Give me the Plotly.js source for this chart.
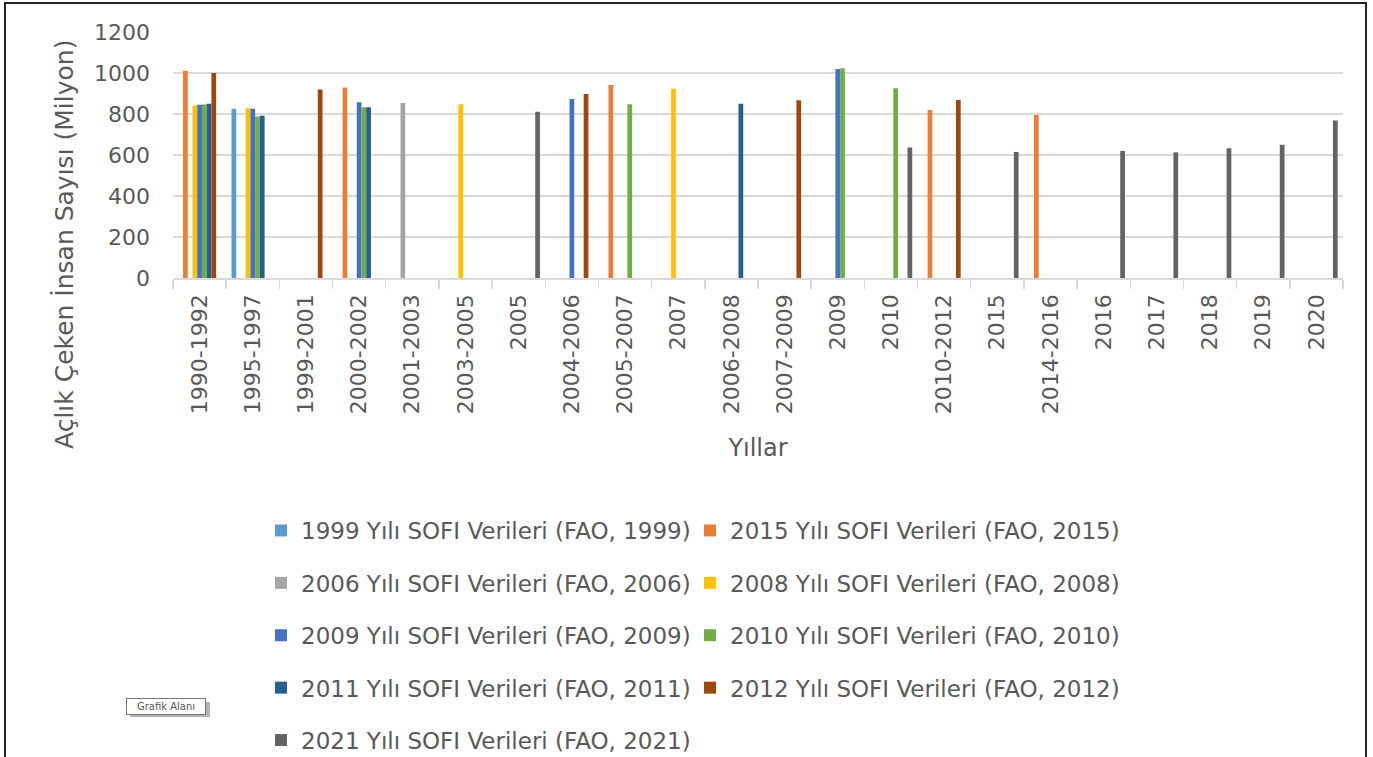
<!DOCTYPE html>
<html>
<head>
<meta charset="utf-8">
<script src="https://cdn.plot.ly/plotly-3.0.1.min.js"></script>
<style>html,body{margin:0;padding:0;background:#fff;}#chart{width:1373px;height:757px;}</style>
</head>
<body>
<div id="chart"></div>
<script>
// ---- data ----
const categories = ["1990-1992","1995-1997","1999-2001","2000-2002","2001-2003","2003-2005","2005","2004-2006","2005-2007","2007","2006-2008","2007-2009","2009","2010","2010-2012","2015","2014-2016","2016","2017","2018","2019","2020"];
const _ = null;
const sofi1999 = [_,825,_,_,_,_,_,_,_,_,_,_,_,_,_,_,_,_,_,_,_,_];
const sofi2015 = [1011,_,_,929,_,_,_,_,942,_,_,_,_,_,820,_,795,_,_,_,_,_];
const sofi2006 = [_,_,_,_,854,_,_,_,_,_,_,_,_,_,_,_,_,_,_,_,_,_];
const sofi2008 = [842,828,_,_,_,848,_,_,_,923,_,_,_,_,_,_,_,_,_,_,_,_];
const sofi2009 = [845,825,_,857,_,_,_,873,_,_,_,_,1020,_,_,_,_,_,_,_,_,_];
const sofi2010 = [846,788,_,833,_,_,_,_,848,_,_,_,1023,925,_,_,_,_,_,_,_,_];
const sofi2011 = [850,792,_,833,_,_,_,_,_,_,850,_,_,_,_,_,_,_,_,_,_,_];
const sofi2012 = [1000,_,919,_,_,_,_,898,_,_,_,867,_,_,868,_,_,_,_,_,_,_];
const sofi2021 = [_,_,_,_,_,_,811,_,_,_,_,_,_,637,_,615,_,620,613,633,650,768];
const seriesNames = [
  "1999 Yılı SOFI Verileri (FAO, 1999)",
  "2015 Yılı SOFI Verileri (FAO, 2015)",
  "2006 Yılı SOFI Verileri (FAO, 2006)",
  "2008 Yılı SOFI Verileri (FAO, 2008)",
  "2009 Yılı SOFI Verileri (FAO, 2009)",
  "2010 Yılı SOFI Verileri (FAO, 2010)",
  "2011 Yılı SOFI Verileri (FAO, 2011)",
  "2012 Yılı SOFI Verileri (FAO, 2012)",
  "2021 Yılı SOFI Verileri (FAO, 2021)"
];
const seriesValues = [sofi1999, sofi2015, sofi2006, sofi2008, sofi2009, sofi2010, sofi2011, sofi2012, sofi2021];
const seriesColors = ["#5B9BD5","#ED7D31","#A5A5A5","#FFC000","#4472C4","#70AD47","#255E91","#9E480E","#636363"];
const legendOf = ["legend","legend2","legend","legend2","legend","legend2","legend","legend2","legend"];

// ---- layout helpers (pixel -> paper) ----
const W = 1373, H = 757;
const M = {l:173, r:30, t:32, b:479, autoexpand: false};
const PW = W - M.l - M.r, PH = H - M.t - M.b;
const px = x => (x - M.l) / PW;
const py = y => (H - M.b - y) / PH;

const FONT = "DejaVu Sans, sans-serif";
const GREY = "#595959";

const traces = seriesValues.map((vals, i) => ({
  type: "bar",
  name: seriesNames[i],
  x: categories,
  y: vals,
  marker: {color: seriesColors[i], line: {width: 0}},
  legend: legendOf[i],
  legendgroup: "g" + i
}));

const legendBase = {
  orientation: "v",
  traceorder: "grouped",
  tracegroupgap: 19.5,
  xanchor: "left",
  yanchor: "top",
  y: py(509),
  bgcolor: "rgba(0,0,0,0)",
  font: {family: FONT, size: 23, color: GREY}
};

const layout = {
  width: W, height: H,
  margin: M,
  paper_bgcolor: "#ffffff",
  plot_bgcolor: "#ffffff",
  barmode: "group",
  bargap: 0.2,
  bargroupgap: 0,
  font: {family: FONT, color: GREY},
  showlegend: true,
  legend: Object.assign({}, legendBase, {x: px(261)}),
  legend2: Object.assign({}, legendBase, {x: px(690)}),
  xaxis: {
    type: "category",
    categoryorder: "array",
    categoryarray: categories,
    tickangle: -90,
    tickfont: {family: FONT, size: 22, color: GREY},
    ticks: "outside",
    tickson: "boundaries",
    ticklen: 9,
    tickwidth: 1.5,
    tickcolor: "#D9D9D9",
    showline: true,
    linecolor: "#D9D9D9",
    linewidth: 1.5,
    showgrid: false,
    ticklabelstandoff: 6,
    title: {text: "Yıllar", font: {family: FONT, size: 24, color: GREY}, standoff: 26},
    automargin: false
  },
  yaxis: {
    range: [0, 1200],
    tickvals: [0,200,400,600,800,1000,1200],
    tickfont: {family: FONT, size: 22, color: GREY},
    showgrid: true,
    gridcolor: "#D9D9D9",
    gridwidth: 1.5,
    zeroline: false,
    showline: false,
    ticks: "",
    ticklabelstandoff: 22,
    automargin: false
  },
  annotations: [
    {
      text: "Açlık Çeken İnsan Sayısı (Milyon)",
      xref: "paper", yref: "paper",
      x: px(64), y: py(245),
      xanchor: "center", yanchor: "middle",
      textangle: -90, showarrow: false,
      font: {family: FONT, size: 25, color: GREY}
    },
    {
      text: "Grafik Alanı",
      xref: "paper", yref: "paper",
      x: px(126), y: py(698),
      xanchor: "left", yanchor: "top",
      width: 74,
      align: "center",
      showarrow: false,
      bgcolor: "#ffffff",
      bordercolor: "#767676",
      borderwidth: 1,
      borderpad: 2,
      font: {family: FONT, size: 10, color: "#575757"}
    }
  ],
  shapes: [
    {
      type: "rect", xref: "paper", yref: "paper",
      x0: px(5), x1: px(1366), y0: py(800), y1: py(3),
      line: {color: "#262626", width: 2},
      fillcolor: "rgba(0,0,0,0)",
      layer: "below"
    },
    {
      type: "rect", xref: "paper", yref: "paper",
      x0: px(130), x1: px(210), y0: py(717), y1: py(702),
      line: {width: 0},
      fillcolor: "#b5b5b5",
      layer: "above"
    }
  ]
};

Plotly.newPlot("chart", traces, layout, {displayModeBar: false, staticPlot: true});
</script>
</body>
</html>
